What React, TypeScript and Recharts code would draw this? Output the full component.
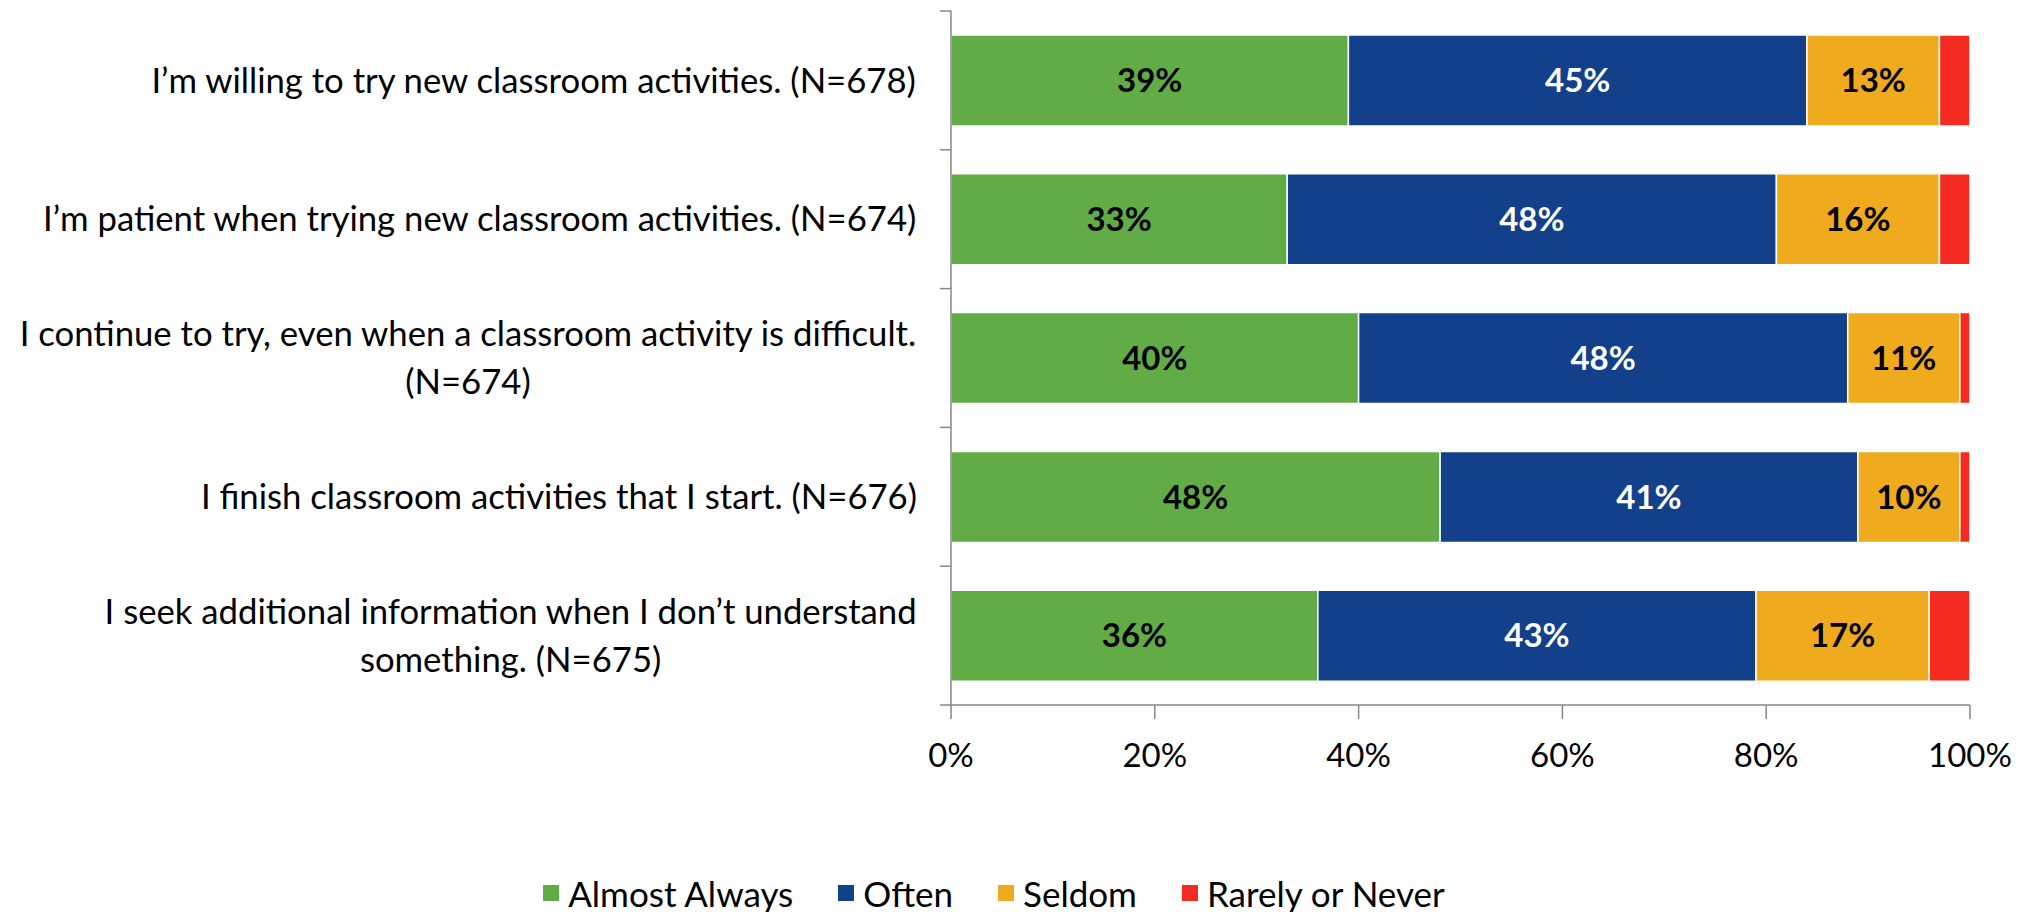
import { BarChart, Bar, XAxis, YAxis, LabelList, Legend } from "recharts";

const categories = [
  "I’m willing to try new classroom activities. (N=678)",
  "I’m patient when trying new classroom activities. (N=674)",
  "I continue to try, even when a classroom activity is difficult.\n(N=674)",
  "I finish classroom activities that I start. (N=676)",
  "I seek additional information when I don’t understand\nsomething. (N=675)",
];
const almostAlways = [39, 33, 40, 48, 36];
const often = [45, 48, 48, 41, 43];
const seldom = [13, 16, 11, 10, 17];
const rarelyOrNever = [3, 3, 1, 1, 4];
const xTicks = [0, 20, 40, 60, 80, 100];

const series = [
  { key: "almostAlways", name: "Almost Always", color: "#62AC47", label: "#000000" },
  { key: "often", name: "Often", color: "#12408A", label: "#FFFFFF" },
  { key: "seldom", name: "Seldom", color: "#F0AA1D", label: "#000000" },
  { key: "rarelyOrNever", name: "Rarely or Never", color: "#F52A21", label: null },
];

const data = categories.map((name, i) => ({
  name,
  almostAlways: almostAlways[i],
  often: often[i],
  seldom: seldom[i],
  rarelyOrNever: rarelyOrNever[i],
}));

const W = 2030;
const H = 912;
const AXIS_X = 951;
const TOP = 11;
const PLOT_BOTTOM = 705;
const LEGEND_H = 38;
const FONT = "Lato, 'Open Sans', sans-serif";
const GRAY = "#878787";
const LABEL_RIGHT = 917;

let ctx: CanvasRenderingContext2D | null = null;
function measure(text: string, font: string) {
  if (!ctx) ctx = document.createElement("canvas").getContext("2d");
  if (!ctx) return text.length * 14;
  ctx.font = font;
  return ctx.measureText(text).width;
}

function CategoryTick(props: any) {
  const { y, payload, index } = props;
  const band = (PLOT_BOTTOM - TOP) / categories.length;
  const lines = String(payload.value).split("\n");
  const size = 34.7;
  const maxW = Math.max(...lines.map((l) => measure(l, `${size}px Lato`)));
  const cx = LABEL_RIGHT - maxW / 2;
  const lh = 48;
  const y0 = y - ((lines.length - 1) * lh) / 2;
  return (
    <g>
      <line x1={AXIS_X - 11} x2={AXIS_X} y1={y - band / 2} y2={y - band / 2} stroke={GRAY} strokeWidth={1.5} />
      {index === categories.length - 1 && (
        <line x1={AXIS_X - 11} x2={AXIS_X} y1={y + band / 2} y2={y + band / 2} stroke={GRAY} strokeWidth={1.5} />
      )}
      <text textAnchor="middle" fontFamily={FONT} fontSize={size} fill="#000">
        {lines.map((l, i) => (
          <tspan key={i} x={cx} y={y0 + i * lh} dy="0.35em">
            {l}
          </tspan>
        ))}
      </text>
    </g>
  );
}

function LegendContent() {
  return (
    <div
      style={{
        height: LEGEND_H,
        display: "flex",
        justifyContent: "center",
        alignItems: "center",
        fontFamily: FONT,
        fontSize: 35,
        paddingLeft: 18,
      }}
    >
      {series.map((s, i) => (
        <div
          key={s.key}
          style={{ display: "flex", alignItems: "center", marginRight: i === series.length - 1 ? 0 : 45 }}
        >
          <span style={{ width: 16, height: 16, background: s.color, marginRight: 9, display: "inline-block" }} />
          <span>{s.name}</span>
        </div>
      ))}
    </div>
  );
}

export default function App() {
  return (
    <div style={{ width: W, height: H, background: "#fff" }}>
      <style>{`body{margin:0}`}</style>
      <BarChart
        width={W}
        height={H}
        data={data}
        layout="vertical"
        margin={{ top: TOP, right: W - 1970, bottom: 0, left: 0 }}
        barCategoryGap="17.3%"
      >
        <XAxis
          type="number"
          domain={[0, 100]}
          ticks={xTicks}
          tickFormatter={(v) => `${v}%`}
          height={H - PLOT_BOTTOM - LEGEND_H}
          tickSize={14}
          tickMargin={25}
          axisLine={{ stroke: GRAY, strokeWidth: 1.5 }}
          tickLine={{ stroke: GRAY, strokeWidth: 1.5 }}
          tick={{ fill: "#000", fontSize: 33, fontFamily: FONT }}
        />
        <YAxis
          type="category"
          dataKey="name"
          width={AXIS_X}
          interval={0}
          tickLine={false}
          axisLine={{ stroke: GRAY, strokeWidth: 1.5 }}
          tick={<CategoryTick />}
        />
        <Legend verticalAlign="bottom" height={LEGEND_H} content={<LegendContent />} />
        {series.map((s) => (
          <Bar
            key={s.key}
            dataKey={s.key}
            name={s.name}
            stackId="a"
            fill={s.color}
            stroke="#fff"
            strokeWidth={1.5}
            isAnimationActive={false}
          >
            {s.label && (
              <LabelList
                dataKey={s.key}
                position="center"
                formatter={(v: any) => `${v}%`}
                fill={s.label}
                fontFamily={FONT}
                fontSize={33}
                fontWeight="bold"
              />
            )}
          </Bar>
        ))}
      </BarChart>
    </div>
  );
}
